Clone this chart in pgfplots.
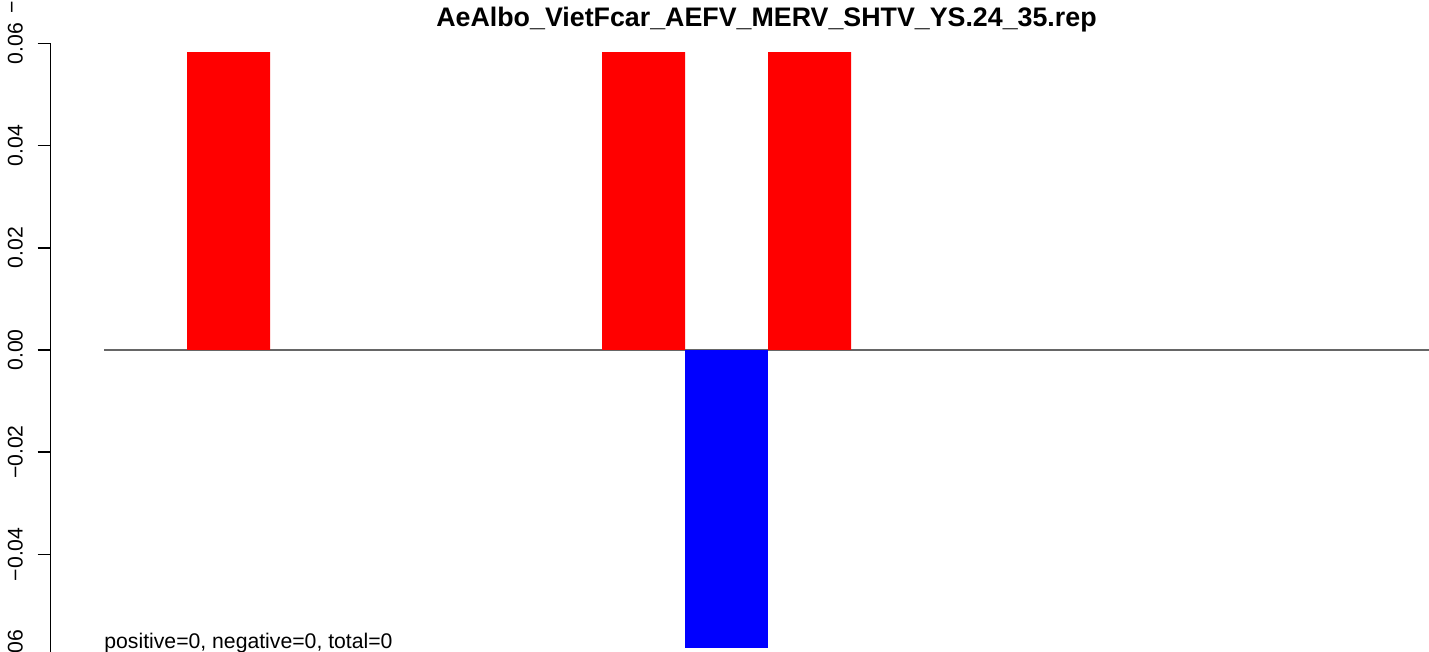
\documentclass[border=0pt]{standalone}
\usepackage{fontspec}
\setmainfont{Liberation Sans}
\usepackage{pgfplots}
\pgfplotsset{compat=1.18}
\definecolor{zline}{HTML}{666666}
\begin{document}
\begin{tikzpicture}[x=0.5pt,y=0.5pt]
\begin{axis}[
  at={(25.25pt,-2.25pt)}, anchor=south west,
  scale only axis, width=689.25pt, height=306.5pt,
  xmin=-0.6446, xmax=15.964, ymin=-0.06, ymax=0.06,
  hide x axis, axis y line*=left,
  y axis line style={-, line width=0.75pt, black},
  scaled y ticks=false,
  ytick={-0.06,-0.04,-0.02,0,0.02,0.04,0.06},
  yticklabels={−0.06,−0.04,−0.02,0.00,0.02,0.04,0.06},
  tick align=outside, major tick length=6.5pt,
  ytick style={black, line width=0.75pt},
  yticklabel style={xshift=-7.5pt, rotate=90, anchor=base, inner sep=0pt, font=\fontsize{10.6}{12}\selectfont},
  clip=false,
]
\addplot[color=zline, line width=0.6pt, no marks] coordinates {(0,0) (15.964,0)};
\addplot[ybar, bar width=1, bar shift=0pt, fill=red, draw=none] coordinates {(1.5,0.0583) (6.5,0.0583) (8.5,0.0583)};
\addplot[ybar, bar width=1, bar shift=0pt, fill=blue, draw=none] coordinates {(7.5,-0.0583)};
\node[anchor=base west, inner sep=0pt, font=\fontsize{10.6}{12}\selectfont] at (axis cs:0,-0.05834) {positive=0, negative=0, total=0};
\end{axis}
\node[anchor=base, inner sep=0pt, font=\bfseries\fontsize{13.4}{15}\selectfont] at (766.5,625) {AeAlbo\_VietFcar\_AEFV\_MERV\_SHTV\_YS.24\_35.rep};
\node[rotate=90, inner sep=0pt, font=\fontsize{10.6}{12}\selectfont] at (15,645) {−};
\pgfresetboundingbox
\path[use as bounding box] (0,0) rectangle (1429,652);
\end{tikzpicture}
\end{document}
